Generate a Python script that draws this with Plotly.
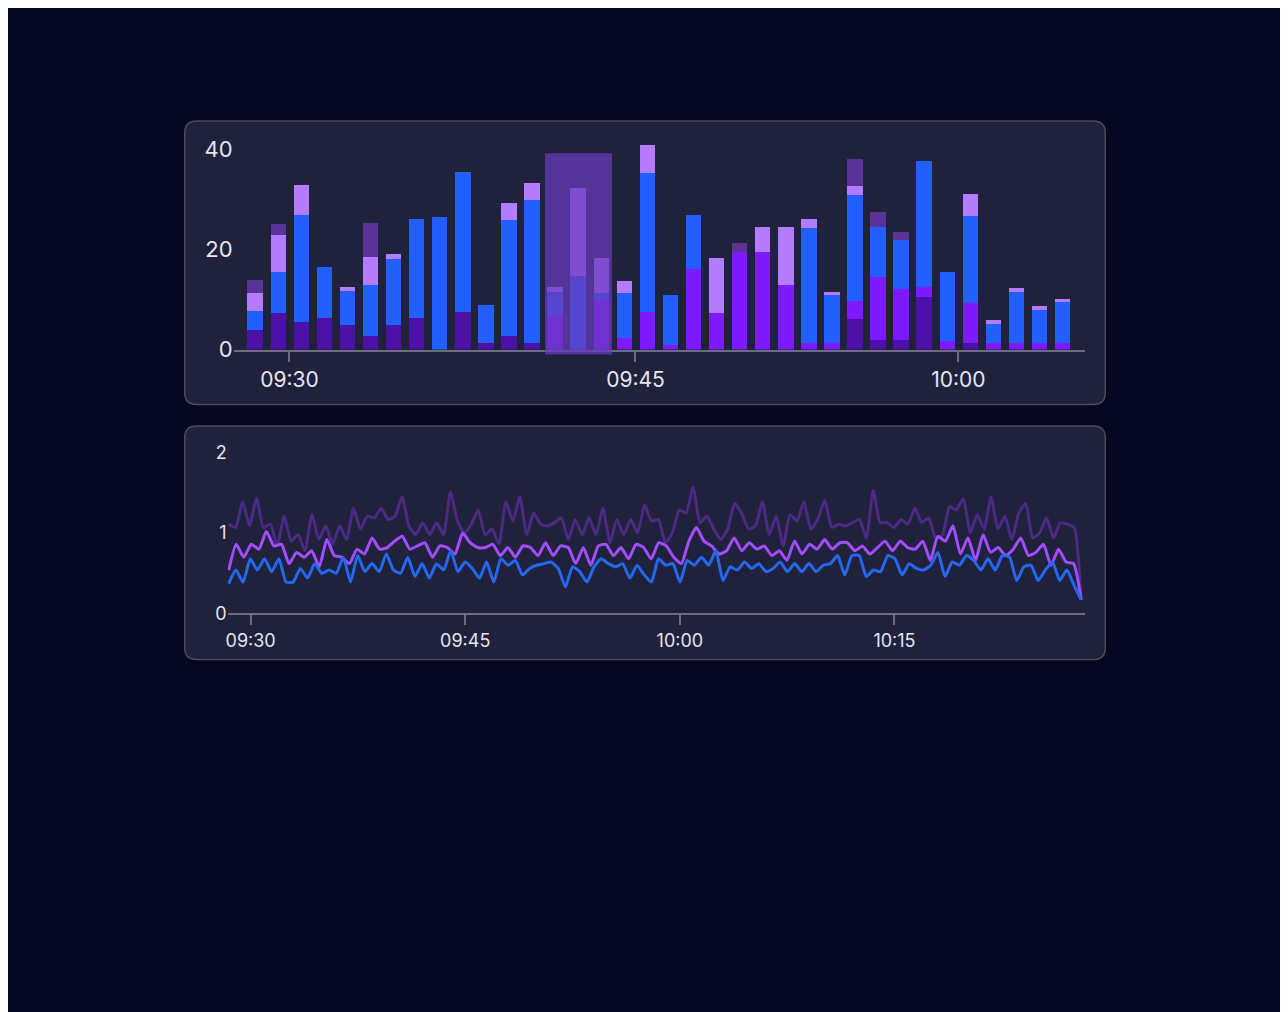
import plotly.graph_objects as go

# the page adds an 8 px body margin, so draw 8 px smaller and shift everything by it
OFF = 8
W, H = 1288 - OFF, 1012 - OFF

# ==== TOP PANEL DATA (stacked bars) ====
bar_idx = list(range(36))
dark = [4.0, 7.3, 5.5, 6.4, 4.9, 2.8, 4.9, 6.4, 0, 7.5, 1.4, 2.8, 1.4, 0, 0, 0, 0, 0,
        0, 0, 0, 0, 0, 0, 0, 0, 6.1, 2.0, 2.0, 10.5, 0, 1.4, 0, 0, 0, 0]
bright = [0, 0, 0, 0, 0, 0, 0, 0, 0, 0, 0, 0, 0, 6.7, 0, 10.0, 2.4, 7.5,
          1.0, 16.2, 7.4, 19.5, 19.5, 12.9, 1.4, 1.4, 3.6, 12.6, 10.1, 2.1, 1.8, 7.9, 1.4, 1.4, 1.4, 1.4]
blue = [3.8, 8.2, 21.5, 10.2, 6.8, 10.1, 13.3, 19.8, 26.6, 28.0, 7.5, 23.2, 28.6, 4.9, 14.7, 1.4, 9.0, 27.8,
        10.0, 10.8, 0, 0, 0, 0, 23.0, 9.5, 21.3, 9.9, 9.9, 25.2, 13.8, 17.5, 3.7, 10.2, 6.6, 8.1]
lavender = [3.5, 7.4, 5.9, 0, 0.9, 5.7, 0.9, 0, 0, 0, 0, 3.4, 3.4, 1.0, 17.6, 7.0, 2.4, 5.7,
            0, 0, 10.9, 0, 5.1, 11.7, 1.8, 0.7, 1.8, 0, 0, 0, 0, 4.3, 0.8, 0.8, 0.8, 0.7]
dusky = [2.6, 2.2, 0, 0, 0, 6.7, 0, 0, 0, 0, 0, 0, 0, 0, 0, 0, 0, 0,
         0, 0, 0, 1.8, 0, 0, 0, 0, 5.4, 3.1, 1.5, 0, 0, 0, 0, 0, 0, 0]
top_tickvals = [1.5, 16.5, 30.5]
top_ticktext = ["09:30", "09:45", "10:00"]

# ==== BOTTOM PANEL DATA (lines) ====
line_blue = [0.37, 0.54, 0.39, 0.68, 0.54, 0.68, 0.52, 0.68, 0.39, 0.39, 0.56, 0.44, 0.62, 0.50, 0.54, 0.50,
             0.70, 0.39, 0.72, 0.52, 0.62, 0.52, 0.74, 0.54, 0.50, 0.70, 0.46, 0.62,
             0.44, 0.62, 0.54, 0.78, 0.52, 0.64, 0.56, 0.44, 0.64, 0.39, 0.68, 0.60, 0.66, 0.48, 0.56, 0.60,
             0.62, 0.64, 0.56, 0.33, 0.58, 0.52, 0.39, 0.58, 0.68, 0.62, 0.58, 0.62, 0.44, 0.60,
             0.48, 0.39, 0.68, 0.60, 0.62, 0.39, 0.66, 0.60, 0.70, 0.60, 0.78, 0.41, 0.58, 0.54, 0.64, 0.56,
             0.62, 0.52, 0.56, 0.64, 0.52, 0.62, 0.52, 0.62, 0.52, 0.60, 0.62, 0.72, 0.48,
             0.72, 0.72, 0.46, 0.54, 0.52, 0.72, 0.68, 0.48, 0.62, 0.56, 0.54, 0.60, 0.76, 0.46, 0.64, 0.60,
             0.72, 0.66, 0.54, 0.68, 0.54, 0.72, 0.70, 0.41, 0.58, 0.60, 0.41, 0.54, 0.64, 0.41, 0.54, 0.35, 0.17]
line_violet = [0.54, 0.86, 0.70, 0.86, 0.80, 1.02, 0.84, 0.86, 0.62, 0.76, 0.70, 0.78, 0.58, 0.92, 0.72,
               0.70, 0.62, 0.80, 0.74, 0.94, 0.80, 0.82, 0.90, 0.96, 0.80, 0.84, 0.88, 0.70, 0.84,
               0.82, 0.74, 1.00, 0.88, 0.82, 0.82, 0.86, 0.72, 0.82, 0.70, 0.84, 0.82, 0.72, 0.88, 0.72,
               0.84, 0.82, 0.62, 0.82, 0.60, 0.84, 0.86, 0.72, 0.82, 0.68, 0.86,
               0.82, 0.68, 0.88, 0.84, 0.70, 0.62, 0.90, 1.07, 0.90, 0.84, 0.74, 0.78, 0.94, 0.78, 0.88,
               0.80, 0.84, 0.72, 0.78, 0.66, 0.90, 0.74, 0.86, 0.80, 0.92, 0.80, 0.88,
               0.88, 0.78, 0.84, 0.74, 0.82, 0.90, 0.78, 0.90, 0.82, 0.80, 0.90, 0.66, 0.96, 0.90, 1.09,
               0.74, 0.94, 0.66, 0.98, 0.76, 0.82, 0.72, 0.80, 0.94, 0.72, 0.76, 0.86, 0.60, 0.80, 0.64, 0.62, 0.17]
line_dusky = [1.11, 1.07, 1.39, 1.09, 1.43, 1.07, 1.11, 0.84, 1.21, 0.90, 0.98, 0.78, 1.23, 0.92, 1.09,
              0.86, 1.09, 0.92, 1.31, 1.05, 1.21, 1.19, 1.31, 1.17, 1.21, 1.45, 1.09, 0.98, 1.13,
              0.98, 1.13, 0.98, 1.51, 1.15, 1.00, 1.11, 1.29, 0.98, 1.05, 0.86, 1.39, 1.15, 1.45, 0.98,
              1.25, 1.11, 1.09, 1.13, 1.19, 0.92, 1.17, 0.98, 1.19, 0.98, 1.31, 0.88, 1.17, 0.98,
              1.17, 1.00, 1.35, 1.15, 1.17, 0.88, 1.00, 1.29, 1.25, 1.57, 1.13, 1.21, 1.05, 0.92, 1.05,
              1.37, 1.25, 1.05, 1.09, 1.39, 0.98, 1.21, 0.84, 1.23, 1.15, 1.39, 1.05, 1.17, 1.41, 1.07, 1.11,
              1.09, 1.13, 1.17, 0.94, 1.53, 1.13, 1.13, 1.07, 1.17, 1.11, 1.31, 1.13, 1.19, 0.94, 0.98,
              1.33, 1.29, 1.43, 1.00, 1.23, 1.05, 1.45, 1.05, 1.21, 0.92, 1.25, 1.37, 0.94, 1.00, 1.19,
              0.94, 1.13, 1.11, 1.07, 0.17]
line_start, line_end = -1.53, 58.05   # minutes after 09:30
bottom_tickvals = [0, 15, 30, 45]
bottom_ticktext = ["09:30", "09:45", "10:00", "10:15"]


def spread(n):
    return [line_start + i * (line_end - line_start) / (n - 1) for i in range(n)]


def px_x(p):
    return (p - OFF) / W


def px_y(p):
    return 1 - (p - OFF) / H


def rounded(x0, y0, x1, y1, r):
    rx, ry = r / W, r / H
    a, b, c, d = px_x(x0), px_y(y1), px_x(x1), px_y(y0)
    return (f"M{a+rx},{b} L{c-rx},{b} Q{c},{b} {c},{b+ry} L{c},{d-ry} Q{c},{d} {c-rx},{d} "
            f"L{a+rx},{d} Q{a},{d} {a},{d-ry} L{a},{b+ry} Q{a},{b} {a+rx},{b} Z")


fig = go.Figure()

for vals, col in [(dark, "#4c12a8"), (bright, "#7d1aff"), (blue, "#2160ff"),
                  (lavender, "#b57bff"), (dusky, "#5a3399")]:
    fig.add_trace(go.Bar(x=bar_idx, y=vals, marker=dict(color=col, line=dict(width=0)),
                         width=0.67, xaxis="x", yaxis="y", showlegend=False))

for vals, col in [(line_dusky, "#4a2a85"), (line_violet, "#a24dff"), (line_blue, "#2468f2")]:
    fig.add_trace(go.Scatter(x=spread(len(vals)), y=vals, mode="lines",
                             line=dict(color=col, width=3, shape="spline", smoothing=0.5),
                             xaxis="x2", yaxis="y2", showlegend=False))

shapes = [
    dict(type="path", xref="paper", yref="paper", path=rounded(183, 117, 1105, 406, 12),
         fillcolor="#20213a", line=dict(color="#4a4b62", width=1.5), layer="below"),
    dict(type="path", xref="paper", yref="paper", path=rounded(183, 428, 1105, 666, 12),
         fillcolor="#20213a", line=dict(color="#4a4b62", width=1.5), layer="below"),
    dict(type="rect", xref="x", yref="paper", x0=12.58, x1=15.48, y0=px_y(355), y1=px_y(150),
         fillcolor="rgba(105,60,190,0.72)", line=dict(width=0), layer="above"),
]

axis_common = dict(showgrid=False, zeroline=False, showline=True, linecolor="#6b6c82", linewidth=2,
                   ticks="outside", ticklen=10, tickwidth=2, tickcolor="#6b6c82")

fig.update_layout(
    width=W, height=H, margin=dict(l=0, r=0, t=0, b=0),
    paper_bgcolor="#050720", plot_bgcolor="rgba(0,0,0,0)",
    barmode="stack", bargap=0,
    font=dict(family="Inter, Roboto, sans-serif", color="#e6e6f0"),
    shapes=shapes,
    xaxis=dict(domain=[px_x(232), px_x(1085)], range=[-0.92, 36.0], anchor="y",
               tickvals=top_tickvals, ticktext=top_ticktext, tickfont=dict(size=21), **axis_common),
    yaxis=dict(domain=[px_y(350), px_y(138.3)], range=[0, 41.5], anchor="x",
               tickvals=[0, 20, 40], showgrid=False, zeroline=False, showline=False,
               tickfont=dict(size=22), ticks=""),
    xaxis2=dict(domain=[px_x(226), px_x(1085)], range=[-1.605, 58.34], anchor="y2",
                tickvals=bottom_tickvals, ticktext=bottom_ticktext, tickfont=dict(size=18), **axis_common),
    yaxis2=dict(domain=[px_y(619), px_y(447)], range=[0, 2.1], anchor="x2",
                tickvals=[0, 1, 2], showgrid=False, zeroline=False, showline=False,
                tickfont=dict(size=18), ticks=""),
)

fig.write_html("out.html")
